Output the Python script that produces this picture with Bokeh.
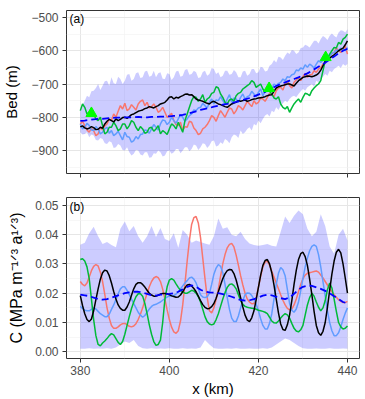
from bokeh.plotting import figure
from bokeh.layouts import column
from bokeh.models import Range1d, FixedTicker, Label, NumeralTickFormatter
from bokeh.embed import file_html
from bokeh.resources import INLINE

# ---------------- data ----------------
km_fine = [380 + 0.5 * i for i in range(121)]   # 0.5 km sampling
km = list(range(380, 441))                       # 1 km sampling

bed_red = [-820, -812, -825, -838, -845, -832, -840, -855, -850, -830, -838, -826, -820, -805, -810, -790, -800, -782, -765, -775,
           -758, -780, -775, -762, -770, -778, -760, -752, -748, -765, -755, -772, -768, -760, -770, -785, -780, -770, -785, -800,
           -795, -788, -810, -822, -825, -815, -840, -828, -830, -812, -815, -832, -840, -852, -848, -835, -830, -822, -810, -795,
           -800, -812, -795, -780, -790, -800, -785, -772, -775, -790, -780, -765, -770, -778, -765, -752, -760, -768, -750, -760,
           -755, -742, -745, -752, -740, -728, -730, -738, -720, -712, -710, -718, -700, -690, -705, -712, -695, -688, -680, -690,
           -678, -668, -680, -672, -672, -660, -665, -655, -650, -640, -635, -622, -615, -608, -605, -592, -600, -605, -598, -585,
           -610]
bed_green = [-780, -760, -770, -790, -785, -775, -790, -805, -810, -800, -825, -850, -845, -830, -830, -815, -825, -840, -835, -820,
             -820, -835, -825, -810, -815, -830, -840, -828, -835, -848, -845, -832, -830, -842, -835, -825, -850, -840, -845, -852,
             -835, -820, -825, -835, -815, -830, -845, -810, -790, -770, -750, -738, -740, -752, -745, -732, -755, -745, -740, -728,
             -725, -708, -712, -730, -740, -755, -760, -748, -745, -752, -735, -728, -725, -715, -710, -705, -700, -690, -695, -710,
             -705, -700, -715, -725, -718, -722, -730, -742, -745, -738, -760, -770, -775, -768, -785, -772, -760, -752, -745, -755,
             -740, -728, -730, -735, -720, -712, -705, -700, -690, -660, -630, -625, -610, -600, -590, -592, -575, -580, -565, -560,
             -550]
bed_blue = [-820, -835, -830, -818, -825, -838, -840, -828, -835, -850, -845, -835, -830, -848, -840, -855, -850, -842, -855, -868,
            -845, -858, -860, -875, -870, -858, -865, -852, -850, -838, -840, -848, -835, -822, -830, -838, -820, -808, -810, -822,
            -815, -800, -810, -818, -805, -792, -800, -812, -805, -795, -790, -778, -780, -772, -770, -758, -765, -772, -755, -745,
            -760, -748, -750, -738, -750, -760, -745, -732, -755, -742, -745, -755, -740, -730, -745, -738, -735, -722, -730, -738,
            -725, -715, -735, -722, -720, -712, -715, -700, -705, -698, -695, -685, -690, -678, -680, -672, -670, -658, -660, -652,
            -655, -642, -650, -640, -645, -652, -640, -630, -635, -628, -625, -618, -615, -608, -605, -598, -600, -592, -595, -600,
            -590]
bed_black = [-829, -826, -832, -835, -833, -828, -831, -837, -836, -830, -833, -820, -812, -806, -810, -814, -805, -810, -806, -801,
             -800, -803, -798, -792, -790, -786, -782, -780, -778, -774, -772, -768, -770, -772, -768, -765, -760, -758, -755, -748,
             -740, -738, -745, -740, -742, -738, -735, -731, -730, -733, -732, -738, -745, -748, -750, -752, -755, -758, -760, -754,
             -752, -756, -760, -762, -765, -768, -770, -765, -760, -757, -755, -750, -752, -750, -748, -752, -750, -747, -745, -744,
             -742, -741, -740, -738, -735, -733, -732, -722, -712, -708, -706, -704, -702, -700, -700, -703, -706, -698, -690, -685,
             -680, -678, -676, -677, -678, -676, -673, -668, -658, -645, -632, -626, -622, -617, -612, -606, -600, -596, -592, -582,
             -570]
bed_upper = [-780, -762, -750, -735, -740, -722, -720, -712, -700, -718, -705, -692, -690, -705, -680, -698, -700, -678, -685, -700,
             -690, -672, -670, -690, -685, -668, -665, -682, -680, -662, -660, -678, -675, -660, -680, -668, -665, -684, -685, -668,
             -670, -688, -680, -662, -660, -678, -675, -658, -655, -672, -670, -660, -665, -682, -680, -664, -660, -675, -670, -652,
             -655, -670, -665, -680, -675, -660, -660, -672, -670, -658, -665, -680, -680, -662, -660, -675, -670, -655, -655, -668,
             -665, -648, -650, -662, -660, -645, -640, -628, -635, -618, -620, -628, -615, -605, -610, -598, -600, -610, -605, -592,
             -590, -582, -585, -590, -580, -570, -570, -578, -565, -556, -560, -568, -555, -548, -555, -560, -545, -538, -540, -545,
             -535]
bed_lower = [-845, -852, -850, -845, -860, -852, -855, -868, -870, -862, -865, -878, -880, -872, -875, -892, -890, -880, -885, -898,
             -900, -890, -905, -915, -910, -898, -900, -912, -915, -905, -905, -922, -920, -908, -910, -900, -905, -918, -915, -902,
             -900, -910, -905, -895, -895, -908, -900, -890, -890, -902, -895, -882, -885, -898, -890, -878, -880, -892, -885, -872,
             -870, -888, -885, -875, -880, -865, -870, -878, -860, -852, -855, -862, -840, -850, -845, -835, -830, -840, -820, -825,
             -810, -818, -805, -795, -790, -798, -780, -785, -770, -778, -765, -758, -750, -755, -745, -738, -735, -740, -730, -722,
             -715, -720, -710, -705, -700, -708, -690, -695, -685, -678, -670, -675, -660, -665, -655, -650, -645, -652, -640, -645,
             -640]
bed_mean = [-811, -810, -808, -806, -805, -805, -803, -802, -801, -801,
            -800, -800, -800, -799, -800, -800, -799, -799, -798, -798,
            -797, -796, -795, -793, -790, -786, -782, -778, -775, -772,
            -768, -765, -762, -760, -757, -754, -750, -746, -742, -737,
            -732, -726, -720, -713, -706, -700, -695, -690, -685, -680,
            -674, -668, -660, -652, -644, -636, -626, -617, -608, -600,
            -594]
tri_km = [382.5, 422.4, 435.1]
tri_bed = [-788, -713, -620]

c_red = [.0240, .0230, .0225, .0235, .0255, .0277, .0292, .0298, .0293, .0272, .0240, .0196, .0150, .0115, .0090, .0080, .0080, .0085, .0092, .0096,
         .0097, .0093, .0087, .0085, .0088, .0096, .0110, .0128, .0150, .0175, .0200, .0222, .0240, .0252, .0257, .0253, .0240, .0214, .0180, .0143,
         .0110, .0084, .0068, .0063, .0072, .0105, .0160, .0232, .0310, .0380, .0435, .0458, .0462, .0440, .0390, .0320, .0250, .0185, .0140, .0133,
         .0150, .0178, .0215, .0258, .0300, .0332, .0355, .0367, .0370, .0358, .0330, .0296, .0260, .0228, .0200, .0180, .0170, .0164, .0165, .0186,
         .0220, .0258, .0290, .0306, .0310, .0296, .0275, .0255, .0235, .0215, .0195, .0176, .0160, .0148, .0143, .0146, .0160, .0180, .0205, .0230,
         .0250, .0262, .0268, .0270, .0272, .0274, .0276, .0272, .0262, .0252, .0240, .0228, .0215, .0205, .0195, .0186, .0178, .0172, .0168, .0168,
         .0172]
c_green = [.0315, .0318, .0310, .0290, .0250, .0180, .0110, .0055, .0025, .0020, .0030, .0037, .0045, .0055, .0062, .0058, .0045, .0032, .0025, .0035,
           .0060, .0090, .0120, .0148, .0170, .0188, .0198, .0198, .0190, .0165, .0130, .0092, .0060, .0035, .0022, .0025, .0040, .0100, .0180, .0222,
           .0245, .0250, .0245, .0232, .0220, .0210, .0205, .0200, .0200, .0205, .0210, .0207, .0200, .0188, .0170, .0145, .0120, .0103, .0095, .0092,
           .0095, .0110, .0130, .0155, .0180, .0202, .0220, .0230, .0232, .0226, .0215, .0195, .0175, .0162, .0155, .0152, .0150, .0149, .0148, .0145,
           .0142, .0140, .0138, .0135, .0130, .0118, .0105, .0099, .0098, .0105, .0115, .0124, .0130, .0126, .0115, .0097, .0080, .0071, .0068, .0075,
           .0090, .0125, .0160, .0185, .0200, .0190, .0170, .0152, .0140, .0150, .0175, .0212, .0235, .0218, .0180, .0138, .0100, .0085, .0078, .0080,
           .0088]
c_blue = [.0155, .0148, .0142, .0140, .0140, .0145, .0150, .0146, .0138, .0130, .0125, .0120, .0120, .0128, .0145, .0160, .0178, .0198, .0215, .0222,
          .0222, .0210, .0195, .0180, .0165, .0150, .0135, .0125, .0118, .0124, .0135, .0146, .0155, .0160, .0162, .0166, .0170, .0176, .0182, .0187,
          .0190, .0191, .0192, .0197, .0205, .0215, .0225, .0235, .0243, .0252, .0255, .0248, .0235, .0215, .0195, .0187, .0185, .0188, .0200, .0230,
          .0265, .0286, .0298, .0292, .0270, .0230, .0185, .0145, .0115, .0103, .0103, .0122, .0150, .0175, .0195, .0201, .0200, .0192, .0180, .0162,
          .0140, .0113, .0090, .0078, .0078, .0097, .0130, .0180, .0230, .0268, .0288, .0280, .0260, .0213, .0165, .0142, .0135, .0146, .0170, .0208,
          .0250, .0290, .0320, .0345, .0360, .0365, .0360, .0332, .0290, .0240, .0190, .0140, .0100, .0072, .0055, .0055, .0065, .0085, .0110, .0132,
          .0150]
c_black = [.0192, .0158, .0130, .0110, .0103, .0112, .0140, .0178, .0215, .0248, .0270, .0279, .0276, .0260, .0235, .0206, .0180, .0160, .0148, .0142,
           .0142, .0153, .0170, .0193, .0215, .0230, .0236, .0236, .0230, .0221, .0210, .0200, .0194, .0190, .0190, .0193, .0197, .0199, .0199, .0198,
           .0195, .0191, .0189, .0186, .0187, .0194, .0205, .0218, .0228, .0230, .0225, .0216, .0205, .0190, .0175, .0161, .0152, .0147, .0148, .0154,
           .0165, .0183, .0205, .0228, .0250, .0266, .0277, .0281, .0280, .0267, .0245, .0216, .0185, .0153, .0125, .0108, .0103, .0116, .0140, .0178,
           .0220, .0262, .0295, .0312, .0315, .0300, .0270, .0228, .0180, .0133, .0095, .0076, .0073, .0092, .0125, .0175, .0230, .0278, .0315, .0335,
           .0340, .0325, .0295, .0248, .0195, .0138, .0090, .0065, .0056, .0070, .0100, .0152, .0210, .0265, .0310, .0340, .0350, .0338, .0300, .0252,
           .0200]
c_mean = [0.0195, 0.0193, 0.0190, 0.0185, 0.0180, 0.0178, 0.0180, 0.0185, 0.0190, 0.0195,
          0.0200, 0.0203, 0.0205, 0.0205, 0.0202, 0.0198, 0.0193, 0.0192, 0.0195, 0.0197,
          0.0198, 0.0200, 0.0205, 0.0213, 0.0222, 0.0227, 0.0222, 0.0212, 0.0205, 0.0203,
          0.0202, 0.0200, 0.0197, 0.0193, 0.0188, 0.0182, 0.0177, 0.0175, 0.0176, 0.0180,
          0.0185, 0.0192, 0.0195, 0.0193, 0.0188, 0.0183, 0.0180, 0.0185, 0.0198, 0.0213,
          0.0222, 0.0226, 0.0225, 0.0220, 0.0215, 0.0208, 0.0200, 0.0190, 0.0180, 0.0170,
          0.0165]
c_upper = [0.0366, 0.0372, 0.0405, 0.0427, 0.0395, 0.0368, 0.0375, 0.0365, 0.0357, 0.0420,
           0.0445, 0.0412, 0.0430, 0.0395, 0.0372, 0.0395, 0.0430, 0.0392, 0.0423, 0.0385,
           0.0378, 0.0405, 0.0355, 0.0416, 0.0400, 0.0372, 0.0380, 0.0375, 0.0370, 0.0366,
           0.0395, 0.0455, 0.0420, 0.0425, 0.0400, 0.0395, 0.0410, 0.0385, 0.0370, 0.0365,
           0.0362, 0.0365, 0.0368, 0.0362, 0.0360, 0.0410, 0.0462, 0.0440, 0.0465, 0.0483,
           0.0470, 0.0420, 0.0395, 0.0410, 0.0470, 0.0430, 0.0360, 0.0335, 0.0400, 0.0420,
           0.0380]
c_lower = [0.0010, 0.0010, 0.0012, 0.0010, 0.0011, 0.0010, 0.0012, 0.0010, 0.0015, 0.0025,
           0.0035, 0.0030, 0.0040, 0.0020, 0.0012, 0.0010, 0.0012, 0.0010, 0.0011, 0.0010,
           0.0012, 0.0010, 0.0010, 0.0012, 0.0010, 0.0011, 0.0010, 0.0015, 0.0040, 0.0025,
           0.0012, 0.0010, 0.0010, 0.0011, 0.0010, 0.0012, 0.0010, 0.0010, 0.0011, 0.0010,
           0.0010, 0.0012, 0.0010, 0.0015, 0.0025, 0.0035, 0.0045, 0.0040, 0.0030, 0.0020,
           0.0012, 0.0010, 0.0010, 0.0011, 0.0010, 0.0010, 0.0012, 0.0010, 0.0010, 0.0011,
           0.0010]

x_ticks = [380, 400, 420, 440]
x_minor = [390, 410, 430]
bed_ticks = [-500, -600, -700, -800, -900]
bed_minor = [-550, -650, -750, -850, -950]
bed_tick_labels = ["\u2212500", "\u2212600", "\u2212700", "\u2212800", "\u2212900"]
c_ticks = [0.0, 0.01, 0.02, 0.03, 0.04, 0.05]
c_minor = [0.005, 0.015, 0.025, 0.035, 0.045]

for name, arr in [("bed_red", bed_red), ("bed_green", bed_green), ("bed_blue", bed_blue),
                  ("bed_black", bed_black), ("bed_upper", bed_upper), ("bed_lower", bed_lower),
                  ("c_red", c_red), ("c_green", c_green), ("c_blue", c_blue), ("c_black", c_black)]:
    assert len(arr) == len(km_fine), (name, len(arr))
for name, arr in [("bed_mean", bed_mean), ("c_mean", c_mean), ("c_upper", c_upper), ("c_lower", c_lower)]:
    assert len(arr) == len(km), (name, len(arr))

# ---------------- style ----------------
FONT = "Liberation Sans"
RED, GREEN, BLUE = "#F8766D", "#00BA38", "#619CFF"
BAND = "#0000FF"
LW = 1.5


def style(p, yt, ym):
    p.background_fill_color = "white"
    p.border_fill_color = "white"
    p.outline_line_color = "#333333"
    p.outline_line_width = 1
    p.xaxis.ticker = FixedTicker(ticks=x_ticks, minor_ticks=x_minor)
    p.yaxis.ticker = FixedTicker(ticks=yt, minor_ticks=ym)
    for ax in (p.xaxis, p.yaxis):
        ax.axis_line_color = None
        ax.major_tick_line_color = "#333333"
        ax.major_tick_out = 4
        ax.major_tick_in = 0
        ax.minor_tick_out = 0
        ax.minor_tick_in = 0
        ax.major_label_text_color = "#4D4D4D"
        ax.major_label_text_font = FONT
        ax.major_label_text_font_size = "12px"
        ax.axis_label_text_font = FONT
        ax.axis_label_text_font_size = "15px"
        ax.axis_label_text_font_style = "normal"
        ax.axis_label_text_color = "black"
    for g in (p.xgrid, p.ygrid):
        g.grid_line_color = "#E6E6E6"
        g.grid_line_width = 1
        g.minor_grid_line_color = "#F2F2F2"
        g.minor_grid_line_width = 0.6
    p.yaxis.major_label_standoff = 4
    p.yaxis.axis_label_standoff = 8


pa = figure(width=365, height=190, output_backend="svg", toolbar_location=None,
            x_range=Range1d(376.9, 442.7), y_range=Range1d(-969, -479),
            min_border_left=63, min_border_right=6, min_border_top=10, min_border_bottom=17)
style(pa, bed_ticks, bed_minor)
pa.yaxis.major_label_overrides = dict(zip(bed_ticks, bed_tick_labels))
pa.xaxis.major_label_overrides = {t: "" for t in x_ticks}
pa.xaxis.major_label_standoff = 0
pa.yaxis.axis_label = "Bed (m)"

pa.varea(x=km_fine, y1=bed_lower, y2=bed_upper, fill_color=BAND, fill_alpha=0.2)
pa.line(km_fine, bed_red, line_color=RED, line_width=LW)
pa.line(km_fine, bed_blue, line_color=BLUE, line_width=LW)
pa.line(km_fine, bed_green, line_color=GREEN, line_width=LW)
pa.line(km_fine, bed_black, line_color="black", line_width=LW)
pa.line(km, bed_mean, line_color="blue", line_width=1.8, line_dash="7 4")
pa.scatter(tri_km, tri_bed, marker="triangle", size=11, fill_color="#00FF00", line_color="#00FF00")
pa.add_layout(Label(x=377.6, y=-483, text="(a)", text_baseline="top", text_font=FONT,
                    text_font_size="12px", text_color="black"))

pb = figure(width=365, height=209, output_backend="svg", toolbar_location=None,
            x_range=Range1d(376.9, 442.7), y_range=Range1d(-0.0023, 0.0527),
            min_border_left=63, min_border_right=6, min_border_top=7, min_border_bottom=38)
style(pb, c_ticks, c_minor)
pb.yaxis.formatter = NumeralTickFormatter(format="0.00")
pb.xaxis.major_label_standoff = 3
pb.xaxis.axis_label_standoff = 2
pb.xaxis.axis_label = "x (km)"
pb.yaxis.axis_label = "C (MPa m\u207b\u00b9\u141f\u00b3 a\u00b9\u141f\u00b3)"
pb.yaxis.axis_label_text_font_size = "16px"
pb.yaxis.axis_label_standoff = 7

pb.varea(x=km, y1=c_lower, y2=c_upper, fill_color=BAND, fill_alpha=0.2)
pb.line(km_fine, c_red, line_color=RED, line_width=LW)
pb.line(km_fine, c_blue, line_color=BLUE, line_width=LW)
pb.line(km_fine, c_green, line_color=GREEN, line_width=LW)
pb.line(km_fine, c_black, line_color="black", line_width=LW)
pb.line(km, c_mean, line_color="blue", line_width=1.8, line_dash="7 4")
pb.add_layout(Label(x=377.6, y=0.0517, text="(b)", text_baseline="top", text_font=FONT,
                    text_font_size="12px", text_color="black"))

layout = column(pa, pb, spacing=0)
open("out.html", "w").write(file_html(layout, INLINE))
